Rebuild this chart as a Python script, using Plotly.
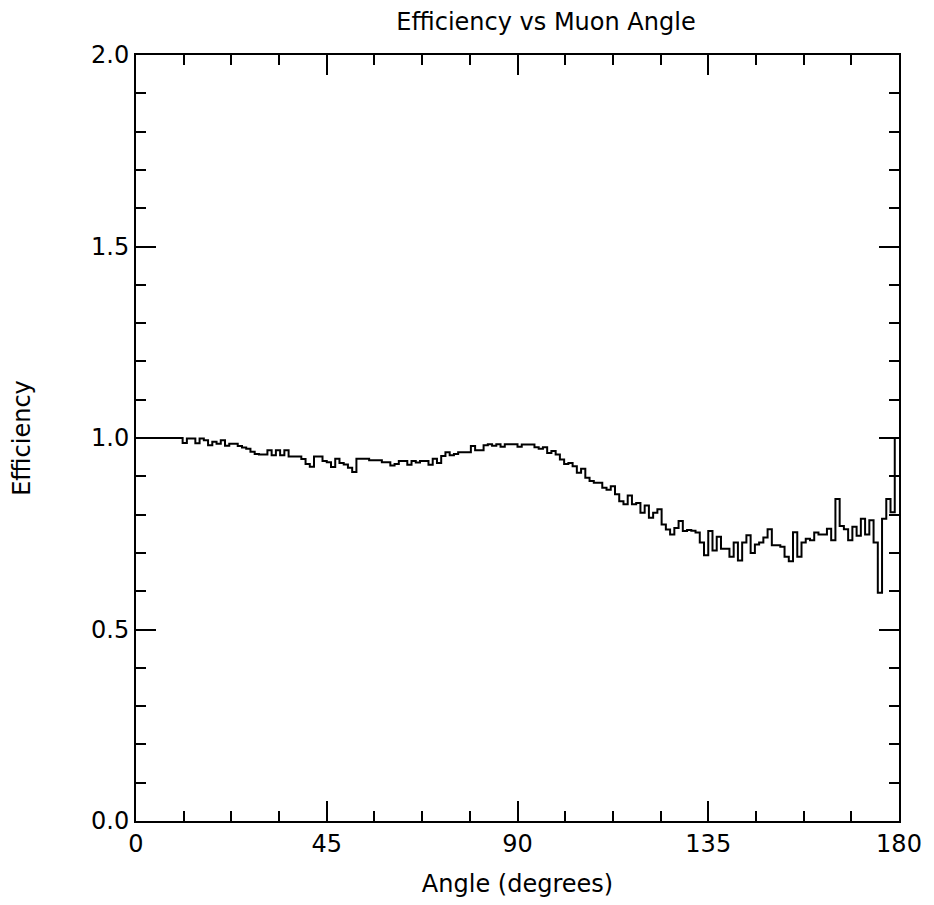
import plotly.graph_objects as go

# Efficiency per 1-degree angle bin, bins [0,1), [1,2), ... [179,180]
bin_start = list(range(0, 180))
efficiency = [
    1.0, 1.0, 1.0, 1.0, 1.0, 1.0, 1.0, 1.0, 1.0, 1.0,
    1.0, 0.987, 0.999, 0.999, 0.986, 0.999, 0.994, 0.981, 0.99, 0.985,
    0.994, 0.98, 0.985, 0.985, 0.979, 0.975, 0.972, 0.964, 0.958, 0.957,
    0.957, 0.968, 0.955, 0.968, 0.955, 0.968, 0.952, 0.952, 0.952, 0.945,
    0.932, 0.925, 0.952, 0.952, 0.94, 0.937, 0.924, 0.946, 0.935, 0.931,
    0.922, 0.911, 0.946, 0.946, 0.946, 0.942, 0.942, 0.942, 0.937, 0.937,
    0.928, 0.932, 0.94, 0.94, 0.93, 0.94, 0.936, 0.94, 0.94, 0.93,
    0.946, 0.935, 0.953, 0.963, 0.955, 0.958, 0.963, 0.963, 0.963, 0.979,
    0.968, 0.968, 0.981, 0.984, 0.98, 0.984, 0.977, 0.984, 0.984, 0.984,
    0.977, 0.983, 0.983, 0.983, 0.976, 0.972, 0.976, 0.961, 0.966, 0.957,
    0.944, 0.932, 0.935, 0.926, 0.909, 0.92, 0.896, 0.888, 0.883, 0.883,
    0.87, 0.865, 0.874, 0.853, 0.835, 0.827, 0.85, 0.827, 0.83, 0.805,
    0.824, 0.792, 0.805, 0.814, 0.774, 0.761, 0.748, 0.765, 0.783, 0.757,
    0.76, 0.758, 0.753, 0.727, 0.694, 0.757, 0.706, 0.742, 0.711, 0.711,
    0.69, 0.727, 0.68, 0.727, 0.746, 0.70, 0.722, 0.727, 0.74, 0.762,
    0.72, 0.72, 0.716, 0.69, 0.678, 0.754, 0.69, 0.727, 0.737, 0.733,
    0.753, 0.748, 0.748, 0.763, 0.733, 0.841, 0.77, 0.762, 0.733, 0.768,
    0.745, 0.789, 0.748, 0.785, 0.727, 0.596, 0.789, 0.841, 0.806, 1.0,
]
assert len(efficiency) == len(bin_start)

x_ticks = [0, 45, 90, 135, 180]
x_labels = ["0", "45", "90", "135", "180"]
y_ticks = [0.0, 0.5, 1.0, 1.5, 2.0]
y_labels = ["0.0", "0.5", "1.0", "1.5", "2.0"]

bin_width = 1
x_steps = bin_start + [bin_start[-1] + bin_width]
y_steps = efficiency + [efficiency[-1]]

FONT = "DejaVu Sans"
FS = 24

fig = go.Figure()
fig.add_trace(go.Scatter(
    x=x_steps, y=y_steps, mode="lines", line_shape="hv",
    line=dict(color="black", width=2), showlegend=False, hoverinfo="skip",
))

fig.update_layout(
    width=934, height=905,
    margin=dict(l=136, r=33, t=55, b=83),
    paper_bgcolor="white", plot_bgcolor="white",
    font=dict(family=FONT, color="black", size=FS),
    title=dict(text="Efficiency vs Muon Angle", x=546 / 934, xanchor="center",
               y=1 - 22 / 905, yanchor="middle", yref="container",
               font=dict(family=FONT, size=FS, color="black")),
)

fig.update_xaxes(
    range=[0, 180], tickmode="array", tickvals=x_ticks, ticktext=x_labels,
    ticks="inside", ticklen=20, tickwidth=1.5, tickcolor="black",
    minor=dict(dtick=11.25, tick0=0, ticks="inside", ticklen=10, tickwidth=1.5, tickcolor="black"),
    showline=True, linecolor="black", linewidth=2, mirror="allticks",
    showgrid=False, zeroline=False,
    tickfont=dict(size=FS), title=dict(text="Angle (degrees)", font=dict(size=FS), standoff=18),
)
fig.update_yaxes(
    range=[0, 2], tickmode="array", tickvals=y_ticks, ticktext=y_labels,
    ticks="inside", ticklen=20, tickwidth=1.5, tickcolor="black",
    minor=dict(dtick=0.1, tick0=0, ticks="inside", ticklen=10, tickwidth=1.5, tickcolor="black"),
    showline=True, linecolor="black", linewidth=2, mirror="allticks",
    showgrid=False, zeroline=False,
    tickfont=dict(size=FS), title=dict(text="Efficiency", font=dict(size=FS), standoff=54),
)

fig.write_html("out.html")
